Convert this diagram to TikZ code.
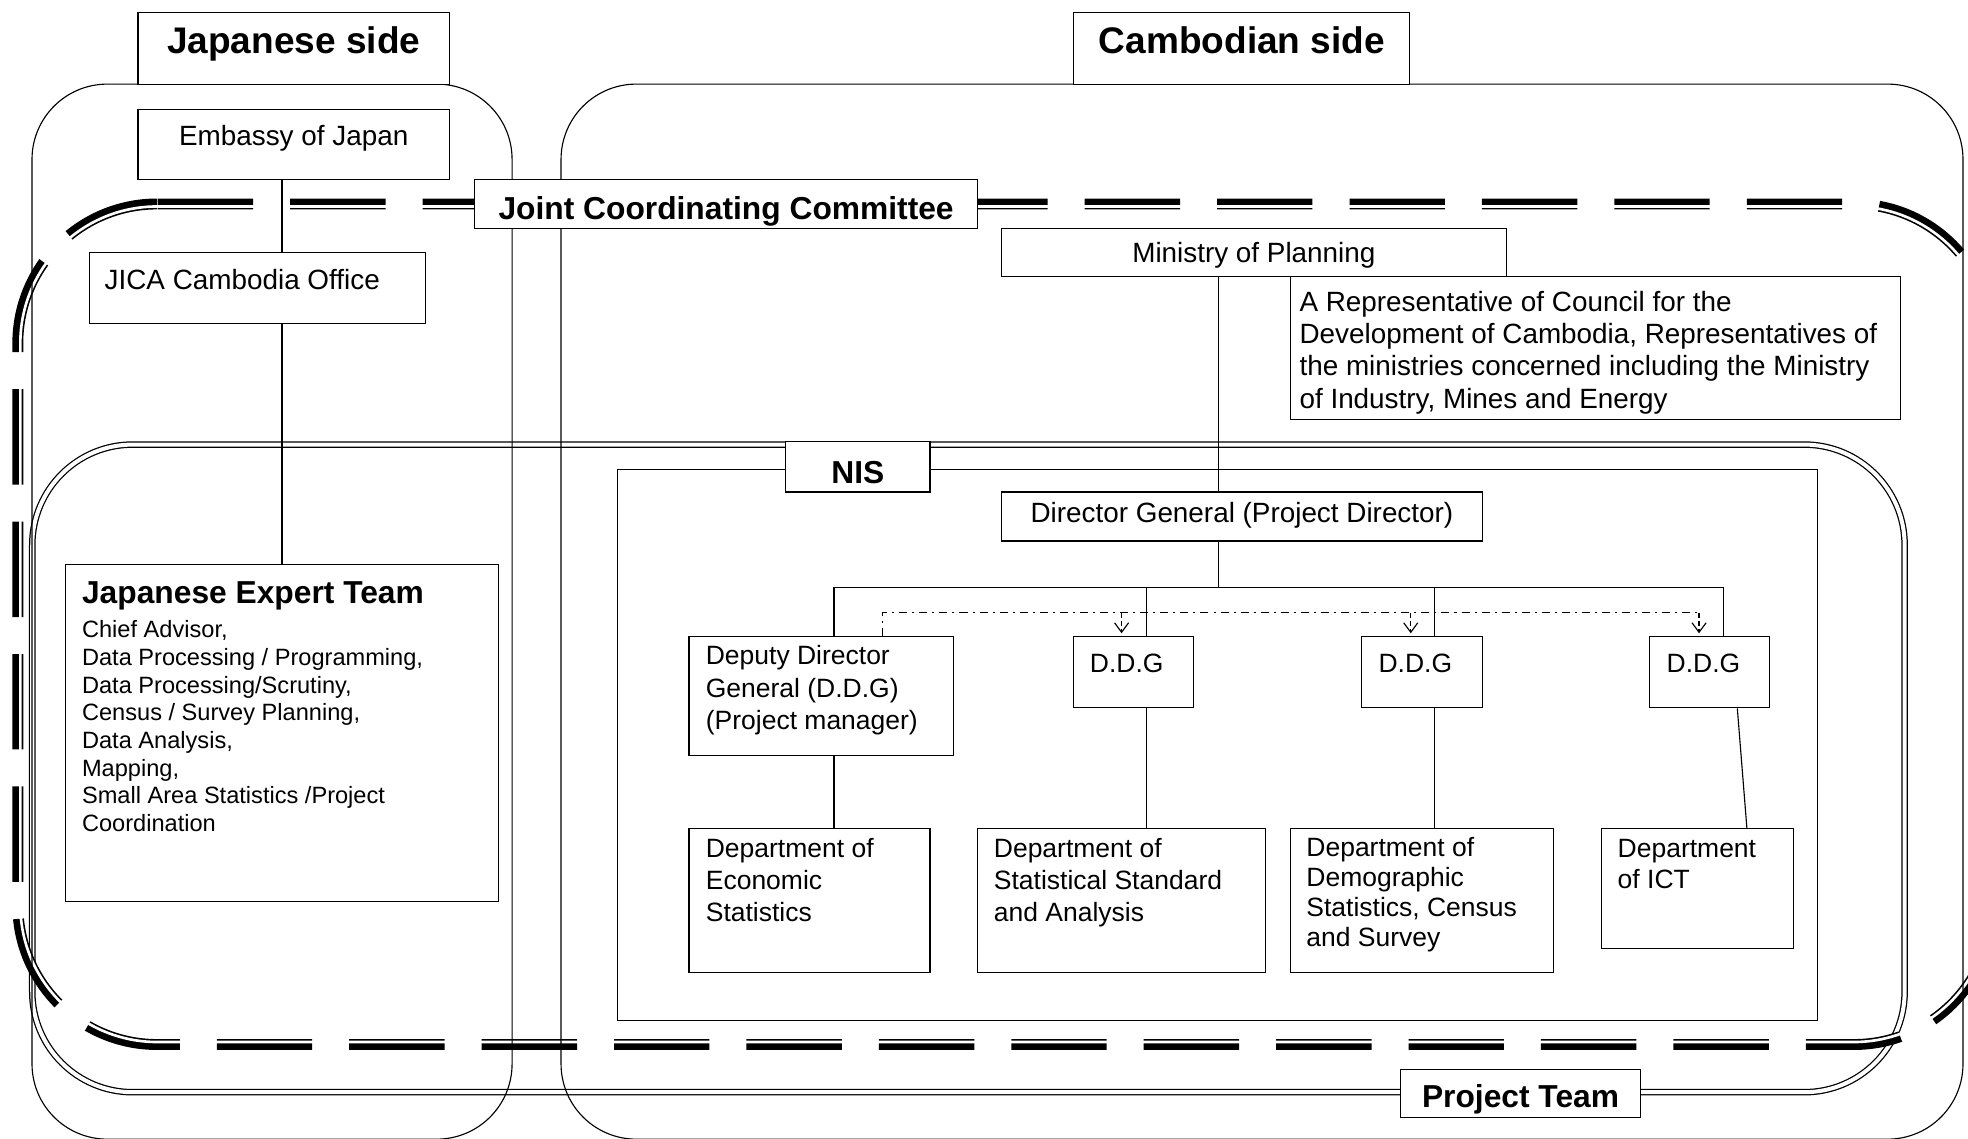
\documentclass[tikz,border=0pt]{standalone}
\usepackage{fontspec}
\setmainfont{Liberation Sans}
\usetikzlibrary{fit,arrows.meta}
\newcommand\stk[1]{\vtop{\halign{##\hfil\cr#1\crcr}}}
\begin{document}
\begin{tikzpicture}[x=0.5pt,y=-0.5pt,
  thin/.style={line width=0.45pt},
  box/.style={draw,thin,fill=white,inner sep=0pt},
  frame/.style={draw,thin,inner sep=0pt},
  lbl/.style={inner sep=0pt},
  fbig/.style={lbl,font=\fontsize{14.75}{17}\selectfont\bfseries},
  fmid/.style={lbl,font=\fontsize{12.65}{15}\selectfont\bfseries},
  fnorm/.style={lbl,font=\fontsize{11.1}{12.85}\selectfont},
  fdept/.style={lbl,font=\fontsize{10.55}{12.7}\selectfont},
  flist/.style={lbl,font=\fontsize{9.4}{11}\selectfont},
  dashdot/.style={thin,dash pattern=on 3.2pt off 2pt on 0.8pt off 2pt},
  ddarrow/.style={thin,dash pattern=on 2pt off 1.3pt,-{Straight Barb[length=3.8pt,width=5.6pt]}},
  jccband/.style={line width=4.35pt,dash pattern=on 38pt off 14.75pt,rounded corners=55.5pt},
  jccgap/.style={white,line width=1.05pt,rounded corners=54.5pt},
  ptline/.style={draw,double,double distance=1.6pt,line width=0.5pt,rounded corners=40pt,inner sep=0pt},
  side/.style={draw,thin,rounded corners=30pt,inner sep=0pt}
]
\useasboundingbox (0,0) rectangle (1568,907);
\begin{scope}
\clip (0,0) rectangle (1568,907);
\fill[white] (0,0) rectangle (1568,907);

% Project Team frame (double line)
\node[ptline,fit={(25.7,354.2) (1517.5,870.2)}] (pt) {};

% Joint Coordinating Committee frame (thick-thin dashed)
\draw[jccband] (125.2,162.5) -- (14.2,162.5) -- (14.2,832.2) -- (1588,832.2) -- (1588,162.5) -- (125.2,162.5);
\draw[jccgap] (16.2,164.5) rectangle (1586,830.2);

% Japanese side and Cambodian side frames
\node[side,fit={(25.5,67) (408,907.6)}] (jpn) {};
\node[side,fit={(447,67) (1564,907.6)}] (cam) {};

% NIS frame
\node[frame,fit={(492,374) (1448,813)}] (nis) {};

% boxes
\node[box,fit={(110,10) (358,67)}] (jside) {};
\node[box,fit={(855,10) (1123,67)}] (cside) {};
\node[box,fit={(110,87) (358,143)}] (embassy) {};
\node[box,fit={(71,201) (339,258)}] (jica) {};
\node[box,fit={(52,450) (397,718)}] (expert) {};
\node[box,fit={(798,182) (1200,220)}] (mop) {};
\node[box,fit={(1028,220) (1514,334)}] (rep) {};
\node[box,fit={(626,352) (741,392)}] (nislbl) {};
\node[box,fit={(798,392) (1181,431)}] (dg) {};
\node[box,fit={(549,507) (760,602)}] (deputy) {};
\node[box,fit={(855,507) (951,564)}] (ddga) {};
\node[box,fit={(1085,507) (1181,564)}] (ddgb) {};
\node[box,fit={(1314,507) (1410,564)}] (ddgc) {};
\node[box,fit={(549,660) (741,775)}] (econ) {};
\node[box,fit={(779,660) (1008,775)}] (stat) {};
\node[box,fit={(1028,660) (1238,775)}] (demo) {};
\node[box,fit={(1276,660) (1429,756)}] (ict) {};
\node[box,fit={(1116,852) (1307,890)}] (ptlbl) {};

% x positions of connectors
\coordinate (xj) at (224.7,0);
\coordinate (xdg) at (971,0);
\coordinate (xdep) at (664.5,0);
\coordinate (xa) at (913.4,0);
\coordinate (xb) at (1143.2,0);
\coordinate (xc) at (1373,0);
\coordinate (xcs) at (1384.2,0);
\coordinate (xct) at (1391.8,0);
\coordinate (bar) at (971,468);
\coordinate (dd) at (703,488);
\coordinate (xaa) at (893.6,0);
\coordinate (xab) at (1124,0);
\coordinate (xac) at (1353.7,0);

% connectors
\draw[thin] (embassy.south -| xj) -- (jica.north -| xj);
\draw[thin] (jica.south -| xj) -- (expert.north -| xj);
\draw[thin] (mop.south -| xdg) -- (dg.north -| xdg);
\draw[thin] (dg.south -| xdg) -- (bar);
\draw[thin] (xdep |- bar) -- (xc |- bar);
\draw[thin] (xdep |- bar) -- (deputy.north -| xdep);
\draw[thin] (xa |- bar) -- (ddga.north -| xa);
\draw[thin] (xb |- bar) -- (ddgb.north -| xb);
\draw[thin] (xc |- bar) -- (ddgc.north -| xc);
\draw[thin] (deputy.south -| xdep) -- (econ.north -| xdep);
\draw[thin] (ddga.south -| xa) -- (stat.north -| xa);
\draw[thin] (ddgb.south -| xb) -- (demo.north -| xb);
\draw[thin] (ddgc.south -| xcs) -- (ict.north -| xct);
\draw[dashdot] (deputy.north -| dd) -- (dd) -- (xac |- dd);
\draw[ddarrow,shorten >=1pt] (xaa |- dd) -- (ddga.north -| xaa);
\draw[ddarrow,shorten >=1pt] (xab |- dd) -- (ddgb.north -| xab);
\draw[ddarrow,shorten >=1pt] (xac |- dd) -- (ddgc.north -| xac);

% JCC label box drawn on top
\node[box,fit={(378,143) (779,182)}] (jcc) {};

% texts
\node[fbig,anchor=base] (jside-t) at (234,43) {Japanese side};
\node[fbig,anchor=base] (cside-t) at (989.5,43) {Cambodian side};
\node[fnorm,anchor=base] (embassy-t) at (234,116) {Embassy of Japan};
\node[fnorm,anchor=base west] (jica-t) at (83,231) {JICA Cambodia Office};
\node[fmid,anchor=base] (jcc-t) at (578.5,175) {Joint Coordinating Committee};
\node[fnorm,anchor=base] (mop-t) at (999,209) {Ministry of Planning};
\node[fnorm,anchor=base west] (rep-t) at (1035,248) {\stk{A Representative of Council for the\cr Development of Cambodia, Representatives of\cr the ministries concerned including the Ministry\cr of Industry, Mines and Energy}};
\node[fmid,anchor=base] (nis-t) at (683.5,385) {NIS};
\node[fnorm,anchor=base] (dg-t) at (989.5,416) {Director General (Project Director)};
\node[fmid,anchor=base west] (expert-h) at (65,481) {Japanese Expert Team};
\node[flist,anchor=base west] (expert-t) at (65,508.3) {\stk{Chief Advisor,\cr Data Processing / Programming,\cr Data Processing/Scrutiny,\cr Census / Survey Planning,\cr Data Analysis,\cr Mapping,\cr Small Area Statistics /Project\cr Coordination}};
\node[fdept,anchor=base west,font=\fontsize{10.55}{12.9}\selectfont] (deputy-t) at (562,529.6) {\stk{Deputy Director\cr General (D.D.G)\cr (Project manager)}};
\node[fdept,anchor=base west] (ddga-t) at (868,536) {D.D.G};
\node[fdept,anchor=base west] (ddgb-t) at (1098,536) {D.D.G};
\node[fdept,anchor=base west] (ddgc-t) at (1327.5,536) {D.D.G};
\node[fdept,anchor=base west] (econ-t) at (562,683) {\stk{Department of\cr Economic\cr Statistics}};
\node[fdept,anchor=base west] (stat-t) at (791.5,683) {\stk{Department of\cr Statistical Standard\cr and Analysis}};
\node[fdept,anchor=base west,font=\fontsize{10.55}{12}\selectfont] (demo-t) at (1040.5,682) {\stk{Department of\cr Demographic\cr Statistics, Census\cr and Survey}};
\node[fdept,anchor=base west,font=\fontsize{10.55}{12.5}\selectfont] (ict-t) at (1288.5,683) {\stk{Department\cr of ICT}};
\node[fmid,anchor=base] (pt-t) at (1211.5,882) {Project Team};
\end{scope}
\end{tikzpicture}
\end{document}
